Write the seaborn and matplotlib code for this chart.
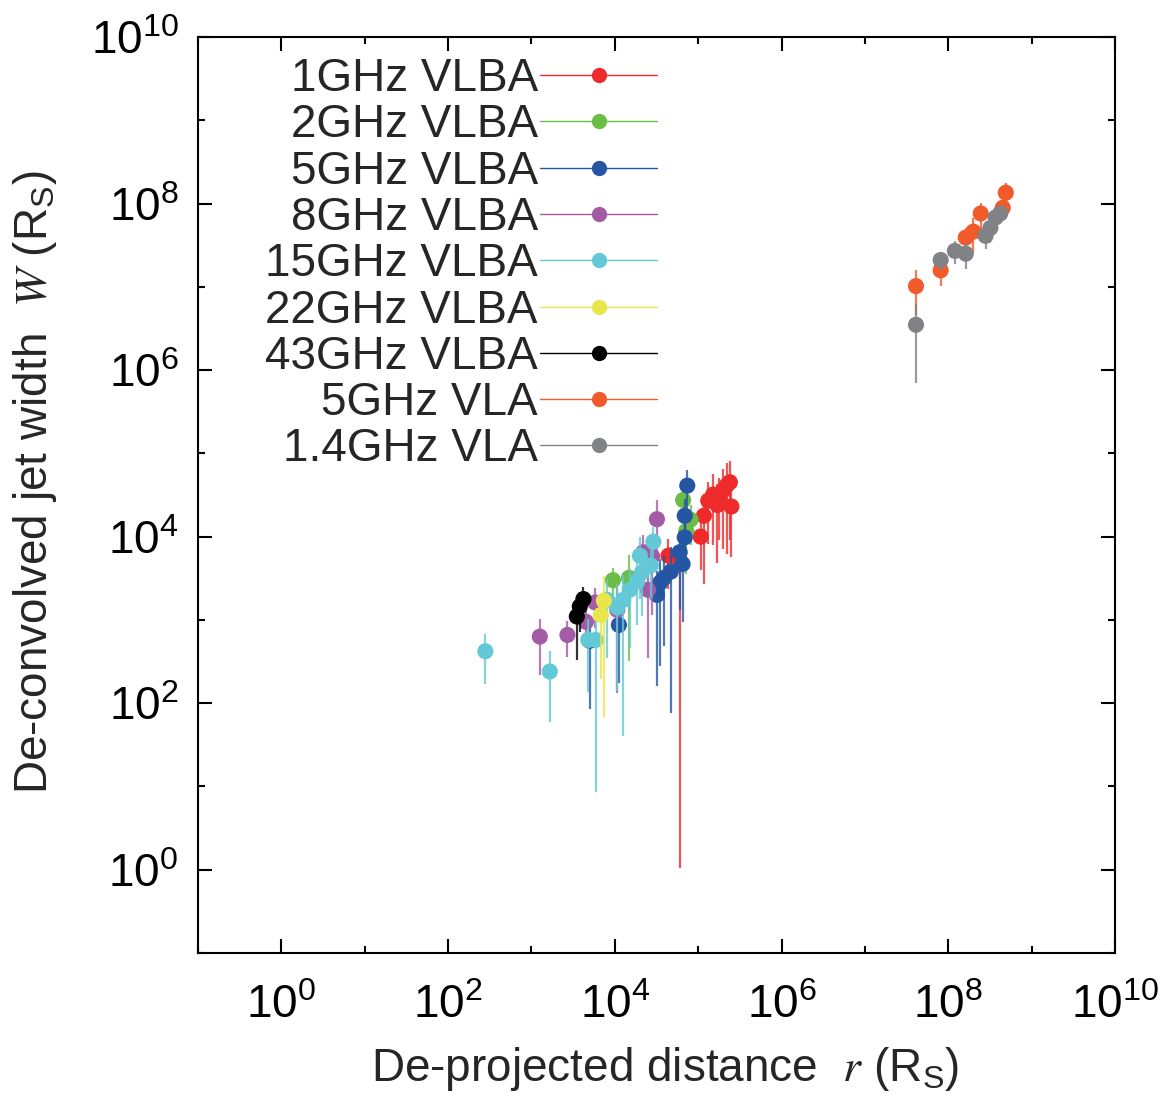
import numpy as np
import pandas as pd
import matplotlib
matplotlib.use("Agg")
import matplotlib.pyplot as plt
import matplotlib.ticker as mticker
from matplotlib.lines import Line2D
import seaborn as sns

# ---------------- data ----------------
series_names = ["1GHz VLBA", "2GHz VLBA", "5GHz VLBA", "8GHz VLBA", "15GHz VLBA",
                "22GHz VLBA", "43GHz VLBA", "5GHz VLA", "1.4GHz VLA"]
series_colors = ["#ee2a2a", "#6cbd45", "#2456a4", "#a35ba5", "#63c9d6",
                 "#e8e64a", "#000000", "#f15a2b", "#808285"]

# r: de-projected distance (R_S), w: jet width (R_S), f: relative error of w
r_1ghz = [4.4e4, 6.0e4, 1.07e5, 1.17e5, 1.32e5, 1.51e5, 1.70e5, 1.78e5, 2.0e5, 2.19e5, 2.4e5, 2.5e5]
w_1ghz = [5.9e3, 5.2e3, 1.0e4, 1.78e4, 2.7e4, 3.2e4, 2.4e4, 3.0e4, 3.6e4, 4.1e4, 4.5e4, 2.3e4]
f_1ghz = [0.6, 0.9998, 0.6, 0.85, 0.7, 0.75, 0.8, 0.7, 0.8, 0.85, 0.8, 0.75]

r_2ghz = [9.5e3, 1.48e4, 6.6e4, 7.2e4, 8.1e4]
w_2ghz = [3.0e3, 3.2e3, 2.75e4, 1.17e4, 1.6e4]
f_2ghz = [0.4, 0.9, 0.5, 0.7, 0.5]

r_5ghz = [7.4e4, 6.9e4, 6.9e4, 6.0e4, 6.5e4, 4.7e4, 3.9e4, 3.5e4, 3.2e4, 1.12e4, 5.0e3]
w_5ghz = [4.1e4, 1.78e4, 9.8e3, 6.5e3, 4.7e3, 3.8e3, 3.2e3, 2.8e3, 2.0e3, 870, 560]
f_5ghz = [0.55, 0.6, 0.6, 0.8, 0.8, 0.98, 0.85, 0.9, 0.92, 0.8, 0.85]

r_8ghz = [1.26e3, 2.7e3, 4.5e3, 5.8e3, 1.07e4, 2.2e4, 2.8e4, 2.5e4, 3.2e4]
w_8ghz = [630, 660, 950, 1.62e3, 1.32e3, 6.5e3, 5.8e3, 2.3e3, 1.62e4]
f_8ghz = [0.65, 0.45, 0.5, 0.5, 0.9, 0.6, 0.8, 0.85, 0.7]

r_15ghz = [280, 1.66e3, 4.8e3, 5.9e3, 8.1e3, 1.07e4, 1.26e4, 1.51e4, 1.86e4, 2.1e4, 2.7e4, 2.0e4, 2.9e4]
w_15ghz = [420, 240, 575, 575, 1.74e3, 1.41e3, 1.74e3, 2.3e3, 2.9e3, 3.7e3, 4.5e3, 5.9e3, 8.7e3]
f_15ghz = [0.6, 0.75, 0.76, 0.985, 0.8, 0.9, 0.977, 0.8, 0.7, 0.7, 0.6, 0.7, 0.5]

r_22ghz = [7.4e3, 6.8e3]
w_22ghz = [1.70e3, 1.15e3]
f_22ghz = [0.96, 0.83]

r_43ghz = [4.2e3, 3.8e3, 3.5e3]
w_43ghz = [1.78e3, 1.45e3, 1.10e3]
f_43ghz = [0.4, 0.5, 0.7]

r_5vla = [4.1e7, 8.1e7, 1.62e8, 2.0e8, 2.45e8, 4.5e8, 4.9e8]
w_5vla = [1.02e7, 1.58e7, 3.9e7, 4.6e7, 7.6e7, 8.9e7, 1.35e8]
f_5vla = [0.55, 0.35, 0.3, 0.45, 0.35, 0.2, 0.3]

r_14vla = [4.1e7, 8.1e7, 1.2e8, 1.62e8, 2.8e8, 3.2e8, 3.7e8, 4.2e8]
w_14vla = [3.5e6, 2.1e7, 2.7e7, 2.5e7, 4.1e7, 5.1e7, 6.8e7, 7.6e7]
f_14vla = [0.8, 0.25, 0.3, 0.35, 0.3, 0.35, 0.25, 0.2]

x_tick_exps = [0, 2, 4, 6, 8, 10]
y_tick_exps = [0, 2, 4, 6, 8, 10]

# ---------------- table ----------------
all_r = [r_1ghz, r_2ghz, r_5ghz, r_8ghz, r_15ghz, r_22ghz, r_43ghz, r_5vla, r_14vla]
all_w = [w_1ghz, w_2ghz, w_5ghz, w_8ghz, w_15ghz, w_22ghz, w_43ghz, w_5vla, w_14vla]
all_f = [f_1ghz, f_2ghz, f_5ghz, f_8ghz, f_15ghz, f_22ghz, f_43ghz, f_5vla, f_14vla]
frames = []
for name, r, w, f in zip(series_names, all_r, all_w, all_f):
    d = pd.DataFrame({"series": name, "r": r, "W": w, "frac": f})
    d["sigma"] = d["W"] * d["frac"]
    frames.append(d)
df = pd.concat(frames, ignore_index=True)

# ---------------- style ----------------
sns.set_style("ticks")
plt.rcParams["font.family"] = ["Liberation Sans", "DejaVu Sans"]
plt.rcParams["mathtext.fontset"] = "stix"
FS = 33

fig = plt.figure(figsize=(11.74, 10.97), dpi=100)
ax = fig.add_axes([198 / 1174, 1 - 953 / 1097, (1115 - 198) / 1174, (953 - 37) / 1097])
ax.set_xscale("log")
ax.set_yscale("log")

for i, (name, color) in enumerate(zip(series_names, series_colors)):
    sub = df[df["series"] == name]
    ax.errorbar(sub["r"], sub["W"], yerr=sub["sigma"], fmt="none", ecolor=color,
                elinewidth=1.6, alpha=0.8, capsize=0, zorder=2 + 2 * i)
    sns.scatterplot(data=sub, x="r", y="W", color=color, s=135, edgecolor="none",
                    linewidth=0, ax=ax, legend=False, zorder=3 + 2 * i)

ax.set_xlim(1e-1, 1e10)
ax.set_ylim(1e-1, 1e10)

fmt = mticker.FuncFormatter(lambda v, p: r"$\mathregular{10^{%d}}$" % int(round(np.log10(v))))
ax.xaxis.set_major_locator(mticker.FixedLocator([10.0 ** e for e in x_tick_exps]))
ax.yaxis.set_major_locator(mticker.FixedLocator([10.0 ** e for e in y_tick_exps]))
ax.xaxis.set_minor_locator(mticker.FixedLocator([10.0 ** e for e in range(-1, 11, 2)]))
ax.yaxis.set_minor_locator(mticker.FixedLocator([10.0 ** e for e in range(-1, 11, 2)]))
ax.xaxis.set_minor_formatter(mticker.NullFormatter())
ax.yaxis.set_minor_formatter(mticker.NullFormatter())
ax.xaxis.set_major_formatter(fmt)
ax.yaxis.set_major_formatter(fmt)
ax.tick_params(which="both", direction="in", top=True, right=True, width=1.5, colors="black")
ax.tick_params(which="major", length=10, labelsize=FS)
ax.tick_params(which="minor", length=5)
ax.tick_params(axis="x", which="major", pad=22)
ax.tick_params(axis="y", which="major", pad=14)
for sp in ax.spines.values():
    sp.set_linewidth(1.5)
    sp.set_color("black")

ax.set_xlabel(r"De-projected distance  $\mathit{r}$ ($\mathregular{R_S}$)", fontsize=FS)
ax.set_ylabel(r"De-convolved jet width  $\mathit{W}$ ($\mathregular{R_S}$)", fontsize=FS)
ax.xaxis.set_label_coords(0.509, -0.100)
ax.yaxis.set_label_coords(-0.152, 0.514)

handles = [Line2D([], [], color=c, lw=1, marker="o", markersize=11, markeredgewidth=0)
           for c in series_colors]
leg = ax.legend(handles, series_names, loc="upper right", bbox_to_anchor=(0.5005, 0.978),
                frameon=False, markerfirst=False, handlelength=2.55, handletextpad=0.05,
                labelspacing=0.05, borderpad=0, borderaxespad=0, fontsize=FS, numpoints=1)
try:
    for col in leg._legend_handle_box.get_children():
        col.align = "right"
except Exception:
    pass

fig.savefig("out.png", dpi=100)
